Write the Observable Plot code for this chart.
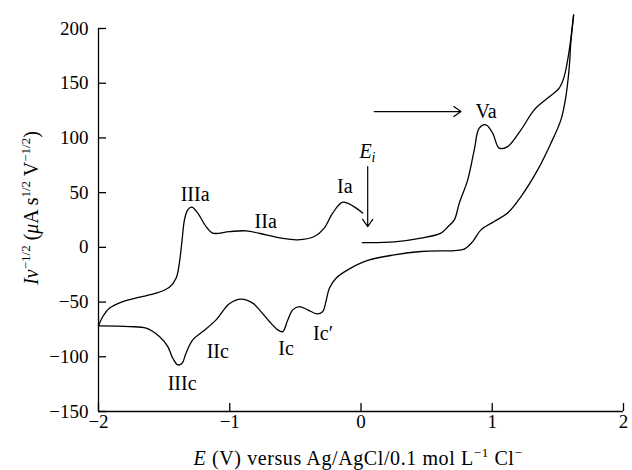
<!DOCTYPE html>
<html>
<head>
<meta charset="utf-8">
<script src="https://cdn.jsdelivr.net/npm/d3@7"></script>
<script src="https://cdn.jsdelivr.net/npm/@observablehq/plot@0.6"></script>
<style>
  html, body { margin: 0; padding: 0; background: #fff; }
  svg text { font-family: "Liberation Serif", serif !important; font-variant: normal !important; }
</style>
</head>
<body>
<div id="chart"></div>
<script>
// Forward (anodic) sweep from Ei to the upper limit
const forwardE = [0.01, 0.254, 0.457, 0.609, 0.66, 0.711, 0.749, 0.813, 0.863, 0.901, 0.952, 1.003, 1.053, 1.117, 1.219, 1.32, 1.422, 1.51, 1.548, 1.587, 1.62];
const forwardI = [4.4, 5.0, 8.4, 13.0, 18.6, 25.1, 40.4, 61.7, 89.1, 109, 112, 104.4, 90.7, 92.1, 107.4, 125.7, 136.4, 145.5, 156, 180.5, 212.5];
// Reverse (cathodic) sweep down to -2 V
const reverseE = [1.62, 1.598, 1.587, 1.561, 1.523, 1.447, 1.346, 1.219, 1.117, 1.015, 0.914, 0.851, 0.787, 0.711, 0.457, 0.254, 0.051, -0.101, -0.19, -0.241, -0.267, -0.292, -0.335, -0.406, -0.47, -0.52, -0.558, -0.596, -0.634, -0.698, -0.762, -0.825, -0.914, -1.003, -1.104, -1.206, -1.282, -1.333, -1.363, -1.396, -1.434, -1.472, -1.536, -1.637, -1.764, -2];
const reverseI = [212.5, 186, 165, 137.8, 116.5, 95.2, 70.8, 46.4, 31.3, 23.6, 16.0, 5.3, -1.6, -2.9, -3.8, -6.9, -12, -20.6, -28.2, -37.3, -49.5, -58.7, -60.8, -57.1, -54.1, -57.1, -66.3, -77, -75.4, -67.8, -58.7, -51, -47.3, -51.6, -66.3, -77, -84.6, -96.7, -105.9, -107.4, -101.3, -90.7, -81.5, -73.9, -72.4, -71.8];
// Final anodic sweep from -2 V back towards Ei
const finalE = [-2, -1.967, -1.917, -1.815, -1.688, -1.561, -1.46, -1.409, -1.384, -1.363, -1.345, -1.32, -1.289, -1.244, -1.18, -1.13, -1.003, -0.876, -0.724, -0.609, -0.482, -0.356, -0.28, -0.216, -0.139, -0.063, 0.013];
const finalI = [-71.8, -63.2, -55.6, -49.5, -45.5, -41.9, -36.4, -28.2, -14.5, 6.9, 25.1, 34.3, 36.7, 31.3, 19, 13, 14.4, 15.1, 11.4, 8.4, 6.9, 9.9, 17.6, 31.3, 41.3, 37.9, 31.3];

// Peak labels
const peakNames = ["IIIa", "IIa", "Ia", "Va", "IIc", "Ic", "IIIc", "Ic\u2032"];
const peakE = [-1.264, -0.726, -0.123, 0.952, -1.091, -0.571, -1.363, -0.289];
const peakI = [48, 23.6, 55.6, 124.1, -95.2, -92.2, -124.1, -78.4];

// Ei marker
const eiE = 0.053, eiI = 86.4;

// Arrows (Ei arrow, sweep-direction arrow)
const arrowE1 = [0.051, 0.101];
const arrowI1 = [73.9, 124.1];
const arrowE2 = [0.051, 0.762];
const arrowI2 = [19, 124.1];

// Ticks
const xTicks = [-2, -1, 0, 1, 2];
const yTicks = [-150, -100, -50, 0, 50, 100, 150, 200];

const fmt = d => d < 0 ? "\u2212" + Math.abs(d) : String(d);

const rows = [];
forwardE.forEach((e, i) => rows.push({E: e, I: forwardI[i], branch: "forward"}));
reverseE.forEach((e, i) => rows.push({E: e, I: reverseI[i], branch: "reverse"}));
finalE.forEach((e, i) => rows.push({E: e, I: finalI[i], branch: "final"}));

const labels = peakNames.map((n, i) => ({name: n, E: peakE[i], I: peakI[i]}));
const arrows = arrowE1.map((e, i) => ({x1: e, y1: arrowI1[i], x2: arrowE2[i], y2: arrowI2[i]}));

const serif = "Liberation Serif";

const chart = Plot.plot({
  width: 632,
  height: 470,
  marginLeft: 98,
  marginRight: 9,
  marginTop: 28,
  marginBottom: 59,
  x: {domain: [-2, 2]},
  y: {domain: [-150, 200]},
  style: {fontFamily: serif, fontSize: "19px", color: "#000", background: "#fff", overflow: "visible"},
  marks: [
    Plot.axisX(xTicks, {tickSize: -8, tickPadding: 11, tickFormat: fmt, label: null, strokeWidth: 1.3, fontFamily: serif, fontSize: 19, fontVariant: "normal"}),
    Plot.axisY(yTicks, {tickSize: -8, tickPadding: 18, tickFormat: fmt, label: null, strokeWidth: 1.3, fontFamily: serif, fontSize: 19, fontVariant: "normal"}),
    Plot.ruleX([-2], {stroke: "#000", strokeWidth: 1.3}),
    Plot.ruleY([-150], {stroke: "#000", strokeWidth: 1.3}),
    Plot.line(rows, {x: "E", y: "I", z: "branch", curve: "catmull-rom", stroke: "#000", strokeWidth: 1.3}),
    Plot.arrow(arrows, {x1: "x1", y1: "y1", x2: "x2", y2: "y2", stroke: "#000", strokeWidth: 1.2, headLength: 11, headAngle: 70, bend: 0}),
    Plot.text(labels, {x: "E", y: "I", text: "name", fontFamily: serif, fontSize: 20, fill: "#000"})
  ]
});

document.getElementById("chart").appendChild(chart);

const svg = d3.select(chart);
const xs = chart.scale("x"), ys = chart.scale("y");

// Ei label
const ei = svg.append("text")
  .attr("x", xs.apply(eiE)).attr("y", ys.apply(eiI) + 6)
  .attr("text-anchor", "middle")
  .attr("font-family", serif).attr("font-size", 20).attr("fill", "#000");
ei.append("tspan").attr("font-style", "italic").text("E");
ei.append("tspan").attr("font-style", "italic").attr("font-size", 14).attr("dy", 4).text("i");

// X-axis title
const xt = svg.append("text")
  .attr("x", 358).attr("y", 465)
  .attr("text-anchor", "middle")
  .attr("letter-spacing", "0.6px")
  .attr("font-family", serif).attr("font-size", 20).attr("fill", "#000");
xt.append("tspan").attr("font-style", "italic").text("E");
xt.append("tspan").text(" (V) versus Ag/AgCl/0.1 mol L");
xt.append("tspan").attr("font-size", 13).attr("dy", -8).text("\u22121");
xt.append("tspan").attr("dy", 8).text(" Cl");
xt.append("tspan").attr("font-size", 13).attr("dy", -8).text("\u2212");

// Y-axis title
const yt = svg.append("text")
  .attr("transform", "translate(38,208) rotate(-90)")
  .attr("text-anchor", "middle")
  .attr("font-family", serif).attr("font-size", 20).attr("fill", "#000");
yt.append("tspan").attr("font-style", "italic").text("I\u03bd");
yt.append("tspan").attr("font-size", 13).attr("dy", -8).text("\u22121/2");
yt.append("tspan").attr("dy", 8).text(" (");
yt.append("tspan").attr("font-style", "italic").text("\u03bc");
yt.append("tspan").text("A s");
yt.append("tspan").attr("font-size", 13).attr("dy", -8).text("1/2");
yt.append("tspan").attr("dy", 8).text(" V");
yt.append("tspan").attr("font-size", 13).attr("dy", -8).text("\u22121/2");
yt.append("tspan").attr("dy", 8).text(")");
</script>
</body>
</html>
